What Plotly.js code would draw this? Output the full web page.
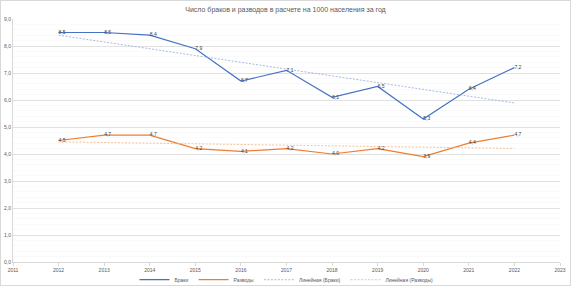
<!DOCTYPE html>
<html><head><meta charset="utf-8">
<script src="https://cdn.plot.ly/plotly-3.0.1.min.js"></script>
<style>html,body{margin:0;padding:0;background:#fff}#w{position:relative;width:571px;height:286px}#c{width:571px;height:286px}#b{position:absolute;left:0;top:0;width:569px;height:284px;border:1px solid #d9d9d9;pointer-events:none}</style>
</head><body><div id="w"><div id="c"></div><div id="b"></div></div>
<script>
const years = [2012,2013,2014,2015,2016,2017,2018,2019,2020,2021,2022];
const marriages = [8.5,8.5,8.4,7.9,6.7,7.1,6.1,6.5,5.3,6.4,7.2];
const divorces = [4.5,4.7,4.7,4.2,4.1,4.2,4.0,4.2,3.9,4.4,4.7];
const seriesNames = ['Браки','Разводы','Линейная (Браки)','Линейная (Разводы)'];
const titleText = 'Число браков и разводов в расчете на 1000 населения за год';

function linfit(x, y){
  const n=x.length, mx=x.reduce((a,b)=>a+b)/n, my=y.reduce((a,b)=>a+b)/n;
  let sxy=0,sxx=0; for(let i=0;i<n;i++){sxy+=(x[i]-mx)*(y[i]-my);sxx+=(x[i]-mx)**2;}
  const b=sxy/sxx; return x.map(v=>my+b*(v-mx));
}
const fmt = v => v.toFixed(1).replace('.',',');
const lblFont = {family:'Liberation Sans, Arial', size:5, color:'#404040'};
const traces = [
  {x:years,y:marriages,name:seriesNames[0],mode:'lines+text',text:marriages.map(fmt),textposition:'middle right',textfont:lblFont,line:{color:'#4472C4',width:1.2},cliponaxis:false},
  {x:years,y:divorces,name:seriesNames[1],mode:'lines+text',text:divorces.map(fmt),textposition:'middle right',textfont:lblFont,line:{color:'#ED7D31',width:1.2},cliponaxis:false},
  {x:years,y:linfit(years,marriages),name:seriesNames[2],mode:'lines',line:{color:'#8FAADC',width:0.8,dash:'2px,1.5px'}},
  {x:years,y:linfit(years,divorces),name:seriesNames[3],mode:'lines',line:{color:'#F4B183',width:0.8,dash:'2px,1.5px'}}
];
const tickFont = {family:'Liberation Sans, Arial', size:5, color:'#595959'};
const layout = {
  width:571,height:286,
  margin:{l:13,r:11,t:19,b:24},
  paper_bgcolor:'#fff',plot_bgcolor:'#fff',
  separators:', ',
  title:{text:titleText,font:{family:'Liberation Sans, Arial',size:7,color:'#595959'},x:0.5,xanchor:'center',y:0.968,yanchor:'middle'},
  showlegend:true,
  legend:{orientation:'h',x:0.5,xanchor:'center',yref:'container',y:0.022,yanchor:'middle',bgcolor:'rgba(0,0,0,0)',font:{family:'Liberation Sans, Arial',size:5,color:'#595959'},entrywidth:0,tracegroupgap:0},
  xaxis:{range:[2011,2023],dtick:1,tickformat:'d',tickfont:tickFont,showgrid:false,zeroline:false,showline:true,linecolor:'#d9d9d9',linewidth:1,ticks:'outside',ticklen:3,tickcolor:'#d9d9d9'},
  yaxis:{range:[0,9],dtick:1,tickformat:'.1f',tickfont:tickFont,showgrid:true,gridcolor:'#d9d9d9',gridwidth:0.8,zeroline:false,showline:true,linecolor:'#d9d9d9',
    minor:{dtick:0.2,showgrid:true,gridcolor:'#f5f5f5',gridwidth:0.5}}
};
Plotly.newPlot('c',traces,layout,{displayModeBar:false,staticPlot:true});
</script></body></html>
